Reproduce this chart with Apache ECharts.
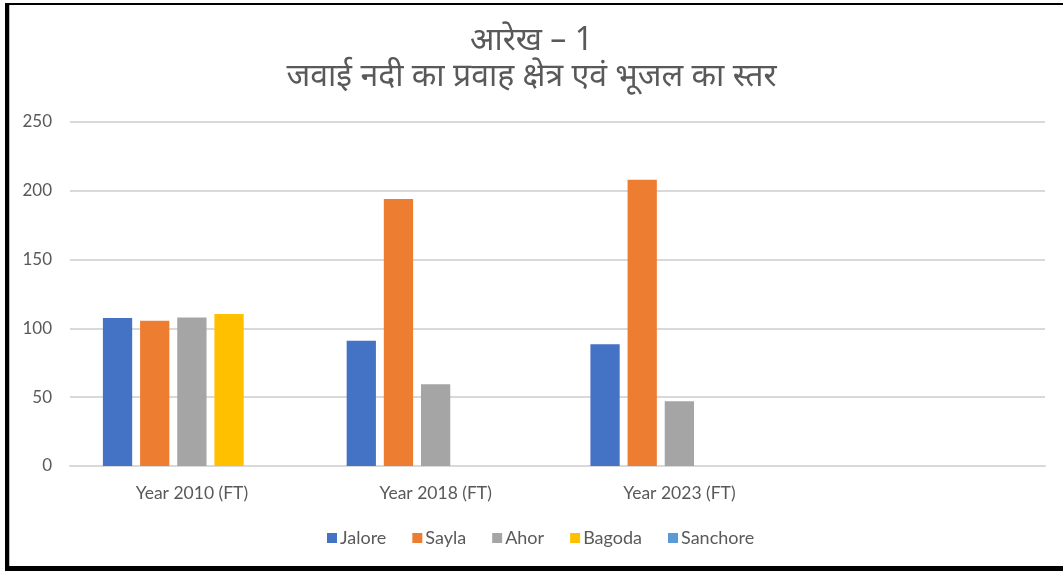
<!DOCTYPE html>
<html>
<head>
<meta charset="utf-8">
<title>आरेख - 1</title>
<script src="https://cdn.jsdelivr.net/npm/echarts@6/dist/echarts.min.js"></script>
<style>
    html, body { margin: 0; padding: 0; background: #fff; }
    #chart { width: 1063px; height: 572px; }
</style>
</head>
<body>
<div id="chart"></div>
<script>
// श्रेणियाँ (चौथी खाली है, जैसे मूल चित्र में)
var years = ["Year 2010 (FT)", "Year 2018 (FT)", "Year 2023 (FT)", ""];
// हर स्थान के मान (फीट)
var jalore = [107.5, 91, 88.5, null];
var sayla = [105.5, 194, 208, null];
var ahor = [108, 59.5, 47, null];
var bagoda = [110.5, null, null, null];
var sanchore = [null, null, null, null];
var yTicks = [0, 50, 100, 150, 200, 250];

var titleText = "आरेख – 1\nजवाई नदी का प्रवाह क्षेत्र एवं भूजल का स्तर";
var names = ["Jalore", "Sayla", "Ahor", "Bagoda", "Sanchore"];
var colors = ["#4472C4", "#ED7D31", "#A5A5A5", "#FFC000", "#5B9BD5"];
var values = [jalore, sayla, ahor, bagoda, sanchore];

var myChart = echarts.init(document.getElementById("chart"));

var series = [];
for (var i = 0; i < names.length; i++) {
    series.push({
        name: names[i],
        type: "bar",
        data: values[i],
        barGap: "27%",
        barCategoryGap: "27%",
        itemStyle: { color: colors[i] }
    });
}

var option = {
    backgroundColor: "#fff",
    animation: false,
    color: colors,
    title: {
        text: titleText,
        left: "center",
        top: 18,
        textStyle: {
            color: "#595959",
            fontSize: 32,
            fontWeight: "normal",
            lineHeight: 36,
            fontFamily: "Noto Sans, sans-serif"
        }
    },
    legend: {
        left: 322,
        top: 524,
        itemWidth: 10,
        itemHeight: 10,
        itemGap: 26,
        icon: "rect",
        textStyle: { color: "#595959", fontSize: 18, fontFamily: "Lato", padding: [0, 0, 0, -2] }
    },
    grid: { left: 70, right: 18, top: 122, bottom: 106 },
    xAxis: {
        type: "category",
        data: years,
        axisTick: { show: false },
        axisLine: { lineStyle: { color: "#D9D9D9", width: 2 } },
        axisLabel: { color: "#595959", fontSize: 17.5, fontFamily: "Lato", margin: 18 }
    },
    yAxis: {
        type: "value",
        min: yTicks[0],
        max: yTicks[yTicks.length - 1],
        interval: 50,
        axisLine: { show: false },
        axisTick: { show: false },
        splitLine: { lineStyle: { color: "#D9D9D9", width: 2 } },
        axisLabel: { color: "#595959", fontSize: 17, fontFamily: "Lato", margin: 18 }
    },
    // बाहर का काला फ्रेम
    graphic: [
        { type: "rect", shape: { x: 5, y: 3, width: 1058, height: 2 }, style: { fill: "#000" } },
        { type: "rect", shape: { x: 5, y: 3, width: 4, height: 568 }, style: { fill: "#000" } },
        { type: "rect", shape: { x: 9, y: 5, width: 1, height: 561 }, style: { fill: "#bfbfbf" } },
        { type: "rect", shape: { x: 5, y: 566, width: 1058, height: 5 }, style: { fill: "#000" } }
    ],
    series: series
};

myChart.setOption(option);
</script>
</body>
</html>
